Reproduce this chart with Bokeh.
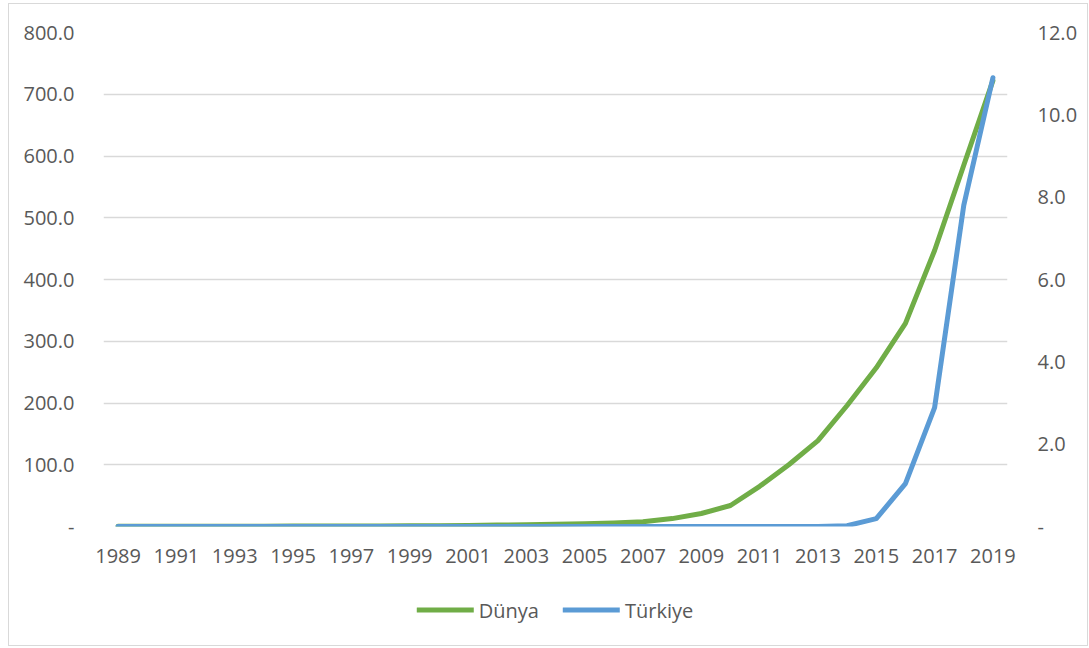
from bokeh.plotting import figure
from bokeh.layouts import column
from bokeh.models import (Range1d, LinearAxis, FixedTicker, CustomJSTickFormatter,
                          Legend, LegendItem)
from bokeh.embed import file_html
from bokeh.resources import INLINE

# Solar electricity generation (TWh): world on the left axis, Turkey on the right axis
years = list(range(1989, 2020))
dunya = [0.3, 0.4, 0.4, 0.5, 0.5, 0.6, 0.7, 0.8, 0.9, 1.0, 1.2, 1.4, 1.8, 2.3, 2.8,
         3.6, 4.5, 5.8, 7.7, 12.8, 21.0, 34.0, 65.0, 100.0, 139.0, 196.0, 257.0,
         329.0, 447.0, 585.0, 722.0]
turkiye = [0.0, 0.0, 0.0, 0.0, 0.0, 0.0, 0.0, 0.0, 0.0, 0.0, 0.0, 0.0, 0.0, 0.0, 0.0,
           0.0, 0.0, 0.0, 0.0, 0.0, 0.0, 0.0, 0.0, 0.0, 0.0, 0.02, 0.19, 1.04, 2.89,
           7.8, 10.9]
series_names = ["Dünya", "Türkiye"]
left_ticks = [0, 100, 200, 300, 400, 500, 600, 700, 800]
right_ticks = [0, 2, 4, 6, 8, 10, 12]
year_ticks = list(range(1989, 2020, 2))

FONT = "Open Sans"
TXT = "#595959"
GRID = "#d9d9d9"
GREEN = "#70ad47"
BLUE = "#5b9bd5"
W = 1078

fmt = CustomJSTickFormatter(code="return tick == 0 ? '-' : tick.toFixed(1);")

p = figure(width=W, height=570, output_backend="svg", toolbar_location=None,
           x_range=Range1d(1988.5, 2019.5), y_range=Range1d(0, 800),
           min_border_left=94, min_border_right=80, min_border_top=28,
           min_border_bottom=48)
p.outline_line_color = None
p.background_fill_color = "white"
p.border_fill_color = "white"

p.extra_y_ranges = {"tr": Range1d(0, 12)}

# Left axis
ly = p.yaxis[0]
ly.ticker = FixedTicker(ticks=left_ticks)
ly.formatter = fmt

# Right axis
ry = LinearAxis(y_range_name="tr", ticker=FixedTicker(ticks=right_ticks), formatter=fmt)
p.add_layout(ry, "right")

for ax in [ly, ry, p.xaxis[0]]:
    ax.axis_line_color = None
    ax.major_tick_line_color = None
    ax.minor_tick_line_color = None
    ax.major_label_text_font = FONT
    ax.major_label_text_font_size = "20px"
    ax.major_label_text_color = TXT

ly.major_label_standoff = 23
ry.major_label_standoff = 24
p.xaxis[0].ticker = FixedTicker(ticks=year_ticks)
p.xaxis[0].major_label_standoff = 16

p.xgrid.grid_line_color = None
p.ygrid.grid_line_color = GRID
p.ygrid.grid_line_width = 1.5
p.ygrid.ticker = FixedTicker(ticks=left_ticks)

p.line(years, dunya, line_color=GREEN, line_width=5,
       line_cap="round", line_join="round")
p.line(years, turkiye, line_color=BLUE, line_width=5, y_range_name="tr",
       line_cap="round", line_join="round")

# Legend strip below the chart (its key lines sit outside the strip's visible range)
leg = figure(width=W, height=71, output_backend="svg", toolbar_location=None,
             x_axis_location=None, y_axis_location=None,
             min_border=0, min_border_right=8,
             x_range=Range1d(0, 1), y_range=Range1d(0, 1))
leg.outline_line_color = None
leg.xgrid.grid_line_color = None
leg.ygrid.grid_line_color = None
lg = leg.line([5, 6], [5, 6], line_color=GREEN, line_width=5, line_cap="round")
lb = leg.line([5, 6], [5, 6], line_color=BLUE, line_width=5, line_cap="round")
legend = Legend(items=[LegendItem(label=series_names[0], renderers=[lg]),
                       LegendItem(label=series_names[1], renderers=[lb])],
                orientation="horizontal", location="center",
                label_text_font=FONT, label_text_font_size="20px",
                label_text_color=TXT, glyph_width=57, glyph_height=20,
                label_standoff=5, spacing=24, border_line_color=None,
                background_fill_alpha=0, margin=0, padding=0)
leg.add_layout(legend, "center")

page = column(p, leg, spacing=0,
              styles={"position": "absolute", "left": "8px", "top": "3px",
                      "border": "1.5px solid #d9d9d9"})

open("out.html", "w").write(file_html(page, INLINE))
